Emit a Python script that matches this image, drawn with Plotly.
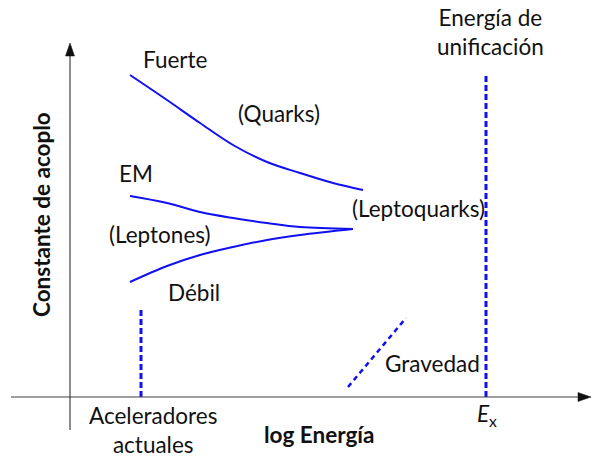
import plotly.graph_objects as go

# Schematic running of the gauge couplings versus log energy (arbitrary units).
# Fuerte (quarks)
energia_fuerte = [60, 97, 130, 163, 197, 230, 263, 293]
acoplo_fuerte = [322, 297, 274, 252, 235, 224, 214, 207]
# Electromagnética
energia_em = [60, 97, 130, 163, 197, 230, 283]
acoplo_em = [201, 194, 185, 179, 174, 170, 168]
# Débil
energia_debil = [60, 97, 130, 163, 197, 230, 283]
acoplo_debil = [115, 131, 142, 150, 157, 162, 168]
# Gravedad
energia_grav = [278, 336]
acoplo_grav = [10, 79]

# Reference energies
energia_aceleradores = 71
altura_aceleradores = 90
energia_unificacion = 416
altura_unificacion = 322

# Extent of the drawn axes
eje_x = [-59, 521]
eje_y = [-33, 354]

AZUL = "#1010f0"
GRIS = "#404040"
FUENTE = "Lato"
TAM = 22.5
PUNTA_LARGO = 13
PUNTA_ANCHO = 4.5

fig = go.Figure()

for xs, ys in [(energia_fuerte, acoplo_fuerte),
               (energia_em, acoplo_em),
               (energia_debil, acoplo_debil)]:
    fig.add_trace(go.Scatter(x=xs, y=ys, mode="lines",
                             line=dict(color=AZUL, width=2, shape="spline"),
                             hoverinfo="skip", showlegend=False))

fig.add_trace(go.Scatter(x=energia_grav, y=acoplo_grav, mode="lines",
                         line=dict(color=AZUL, width=2.5, dash="5px,4px"),
                         hoverinfo="skip", showlegend=False))

for xe, h in [(energia_aceleradores, altura_aceleradores),
              (energia_unificacion, altura_unificacion)]:
    fig.add_trace(go.Scatter(x=[xe, xe], y=[0, h], mode="lines",
                             line=dict(color=AZUL, width=3, dash="6px,3px"),
                             hoverinfo="skip", showlegend=False))

# Axes: lines plus filled arrowheads at their ends
fig.add_trace(go.Scatter(x=[0, 0], y=[eje_y[0], eje_y[1] - PUNTA_LARGO / 2],
                         mode="lines", line=dict(color=GRIS, width=1.2),
                         hoverinfo="skip", showlegend=False))
fig.add_trace(go.Scatter(x=[eje_x[0], eje_x[1] - PUNTA_LARGO / 2], y=[0, 0],
                         mode="lines", line=dict(color=GRIS, width=1.2),
                         hoverinfo="skip", showlegend=False))
fig.add_trace(go.Scatter(
    x=[0, -PUNTA_ANCHO, PUNTA_ANCHO, 0],
    y=[eje_y[1], eje_y[1] - PUNTA_LARGO, eje_y[1] - PUNTA_LARGO, eje_y[1]],
    mode="lines", fill="toself", fillcolor="#111111",
    line=dict(color="#111111", width=0.5),
    hoverinfo="skip", showlegend=False))
fig.add_trace(go.Scatter(
    x=[eje_x[1], eje_x[1] - PUNTA_LARGO, eje_x[1] - PUNTA_LARGO, eje_x[1]],
    y=[0, PUNTA_ANCHO, -PUNTA_ANCHO, 0],
    mode="lines", fill="toself", fillcolor="#111111",
    line=dict(color="#111111", width=0.5),
    hoverinfo="skip", showlegend=False))

etiquetas = [
    ("Fuerte", 105, 337.5),
    ("(Quarks)", 209, 283.5),
    ("EM", 66, 223.5),
    ("(Leptones)", 90, 162.5),
    ("Débil", 124, 104.5),
    ("(Leptoquarks)", 348, 188.5),
    ("Gravedad", 362, 33.5),
    ("Energía de<br>unificación", 420, 365.5),
    ("Aceleradores<br>actuales", 83, -32.5),
]
for texto, x, y in etiquetas:
    fig.add_annotation(x=x, y=y, xref="x", yref="y", text=texto,
                       showarrow=False, xanchor="center", yanchor="middle",
                       font=dict(family=FUENTE, size=TAM, color="#111111"))

fig.add_annotation(x=energia_unificacion + 1, y=-18, xref="x", yref="y",
                   text="<i>E</i><sub>x</sub>", showarrow=False,
                   xanchor="center", yanchor="middle",
                   font=dict(family=FUENTE, size=TAM, color="#111111"))

fig.add_annotation(x=249, y=-37.5, xref="x", yref="y", text="<b>log Energía</b>",
                   showarrow=False, xanchor="center", yanchor="middle",
                   font=dict(family=FUENTE, size=TAM, color="#111111"))
fig.add_annotation(x=-29, y=182, xref="x", yref="y",
                   text="<b>Constante de acoplo</b>", textangle=-90,
                   showarrow=False, xanchor="center", yanchor="middle",
                   font=dict(family=FUENTE, size=TAM, color="#111111"))

fig.update_layout(
    width=592, height=458,
    margin=dict(l=0, r=0, t=0, b=0),
    paper_bgcolor="white", plot_bgcolor="white",
    xaxis=dict(range=[-70, 522], visible=False, fixedrange=True),
    yaxis=dict(range=[-61, 397], visible=False, fixedrange=True),
    showlegend=False,
)

fig.write_html("out.html")
